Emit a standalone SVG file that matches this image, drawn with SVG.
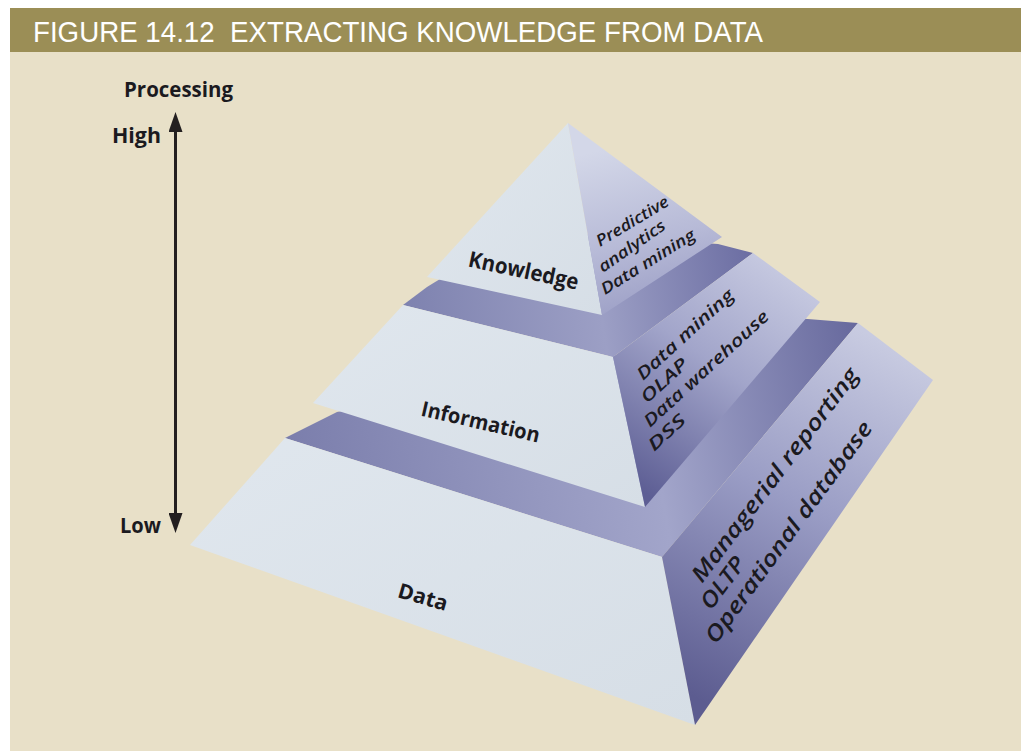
<svg xmlns="http://www.w3.org/2000/svg" width="1021" height="751" viewBox="0 0 1021 751">
<defs>
<style>
.lbl{font-family:"Open Sans","Liberation Sans",sans-serif;font-weight:bold;fill:#1b1a1f;}
.side{font-family:"Open Sans","Liberation Sans",sans-serif;font-weight:600;font-style:italic;fill:#1b1a1f;}
.front{fill:url(#frontG);}
</style>
<linearGradient id="frontG" x1="0" y1="0" x2="1" y2="1">
<stop offset="0" stop-color="#e0e7ee"/><stop offset="1" stop-color="#d6dee6"/>
</linearGradient>
<linearGradient id="kRight" gradientUnits="userSpaceOnUse" x1="600" y1="150" x2="640" y2="310">
<stop offset="0" stop-color="#d3d7e8"/><stop offset="0.6" stop-color="#b7bad7"/><stop offset="1" stop-color="#9ea1c7"/>
</linearGradient>
<linearGradient id="iRight" gradientUnits="userSpaceOnUse" x1="790" y1="270" x2="640" y2="490">
<stop offset="0" stop-color="#c7cae1"/><stop offset="0.45" stop-color="#a2a5ca"/><stop offset="1" stop-color="#5d5e94"/>
</linearGradient>
<linearGradient id="dRight" gradientUnits="userSpaceOnUse" x1="880" y1="340" x2="700" y2="700">
<stop offset="0" stop-color="#c8cbe1"/><stop offset="0.45" stop-color="#9a9dc5"/><stop offset="1" stop-color="#5c5c90"/>
</linearGradient>
<linearGradient id="dBand" gradientUnits="userSpaceOnUse" x1="285" y1="430" x2="858" y2="330">
<stop offset="0" stop-color="#7b7eac"/><stop offset="0.62" stop-color="#a2a5ca"/><stop offset="1" stop-color="#67699d"/>
</linearGradient>
<linearGradient id="iBand" gradientUnits="userSpaceOnUse" x1="403" y1="300" x2="753" y2="250">
<stop offset="0" stop-color="#7e82af"/><stop offset="0.55" stop-color="#9c9fc5"/><stop offset="1" stop-color="#6b6da2"/>
</linearGradient>
<marker id="arrowHead" viewBox="0 0 20 14" refX="14" refY="7" markerWidth="20" markerHeight="14" markerUnits="userSpaceOnUse" orient="auto-start-reverse">
<path d="M0,0 L20,7 L0,14 Z" fill="#231f20"/>
</marker>
</defs>

<rect x="0" y="0" width="1021" height="751" fill="#ffffff"/>
<rect x="10" y="52" width="1011" height="699" fill="#e8e0c8"/>
<g id="header">
<rect x="10" y="8" width="1011" height="44" fill="#9b8e56"/>
<text x="33" y="42" font-family="'Liberation Sans',sans-serif" font-size="30" fill="#ffffff" textLength="730" lengthAdjust="spacingAndGlyphs">FIGURE 14.12&#160; EXTRACTING KNOWLEDGE FROM DATA</text>
</g>

<g id="axis">
<text class="lbl" x="124" y="97" font-size="21" textLength="109" lengthAdjust="spacingAndGlyphs">Processing</text>
<text class="lbl" x="112" y="143" font-size="21" textLength="49" lengthAdjust="spacingAndGlyphs">High</text>
<text class="lbl" x="120" y="533" font-size="21" textLength="41" lengthAdjust="spacingAndGlyphs">Low</text>
</g>

<g id="connectors">
<line x1="175.5" y1="118" x2="175.5" y2="527" stroke="#231f20" stroke-width="3" marker-start="url(#arrowHead)" marker-end="url(#arrowHead)"/>
</g>

<g id="layer-data">
<polygon points="285,438 337,412 500,380 795,318 858,323 662,557" fill="url(#dBand)"/>
<polygon class="front" points="285,438 662,557 695,725 190,545"/>
<polygon points="662,557 858,323 933,380 695,725" fill="url(#dRight)"/>
<text class="lbl" font-size="21" text-anchor="middle" transform="translate(421,604) rotate(16)" textLength="51" lengthAdjust="spacingAndGlyphs">Data</text>
<text class="side" font-size="22" transform="translate(702,584) rotate(-53)" textLength="262" lengthAdjust="spacingAndGlyphs">Managerial reporting</text>
<text class="side" font-size="22" transform="translate(711,611) rotate(-53)" textLength="59" lengthAdjust="spacingAndGlyphs">OLTP</text>
<text class="side" font-size="22" transform="translate(716,645) rotate(-54)" textLength="268" lengthAdjust="spacingAndGlyphs">Operational database</text>
</g>

<g id="layer-information">
<polygon points="403,305 613,357 753,253 718,244 520,230 427,287" fill="url(#iBand)"/>
<polygon class="front" points="403,305 613,357 645,507 313,403"/>
<polygon points="613,357 753,253 820,302 645,507" fill="url(#iRight)"/>
<text class="lbl" font-size="21" text-anchor="middle" transform="translate(479,429) rotate(13)" textLength="121" lengthAdjust="spacingAndGlyphs">Information</text>
<text class="side" font-size="17" transform="translate(643,381) rotate(-42.5)" textLength="125" lengthAdjust="spacingAndGlyphs">Data mining</text>
<text class="side" font-size="17" transform="translate(647,404) rotate(-42.5)" textLength="57" lengthAdjust="spacingAndGlyphs">OLAP</text>
<text class="side" font-size="17" transform="translate(650,428) rotate(-42.5)" textLength="163" lengthAdjust="spacingAndGlyphs">Data warehouse</text>
<text class="side" font-size="17" transform="translate(654,452) rotate(-42.5)" textLength="45" lengthAdjust="spacingAndGlyphs">DSS</text>
</g>

<g id="layer-knowledge">
<polygon class="front" points="568,123 427,277 602,315"/>
<polygon points="568,123 602,315 722,237" fill="url(#kRight)"/>
<text class="lbl" font-size="22" text-anchor="middle" transform="translate(522,278) rotate(12)" textLength="112" lengthAdjust="spacingAndGlyphs">Knowledge</text>
<text class="side" font-size="16" transform="translate(600,247) rotate(-31)" textLength="82" lengthAdjust="spacingAndGlyphs">Predictive</text>
<text class="side" font-size="16" transform="translate(603,273) rotate(-35)" textLength="78" lengthAdjust="spacingAndGlyphs">analytics</text>
<text class="side" font-size="16" transform="translate(605,295) rotate(-32)" textLength="108" lengthAdjust="spacingAndGlyphs">Data mining</text>
</g>
</svg>
